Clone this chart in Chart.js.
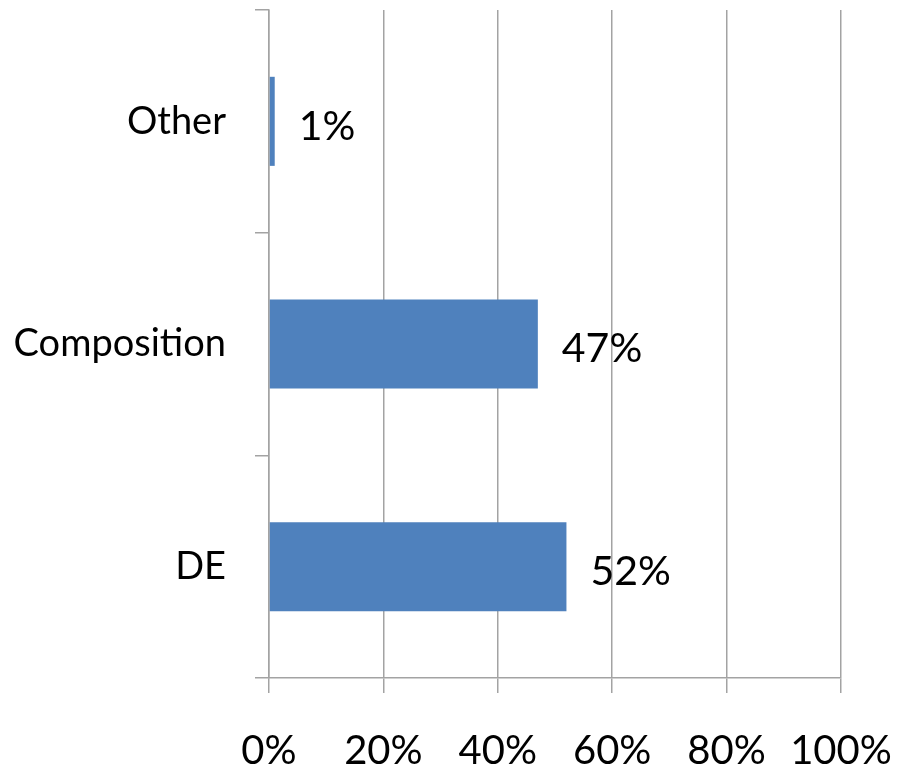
<!DOCTYPE html>
<html>
<head>
<meta charset="utf-8">
<script src="https://cdn.jsdelivr.net/npm/chart.js@4/dist/chart.umd.min.js"></script>
<style>
  html, body { margin: 0; padding: 0; background: #fff; }
  #wrap { width: 899px; height: 776px; }
</style>
</head>
<body>
<div id="wrap"><canvas id="chart" width="899" height="776"></canvas></div>
<script>
// chart values
const categories = ['Other', 'Composition', 'DE'];
const shares = [1, 47, 52];
const xTicks = [0, 20, 40, 60, 80, 100];

const gridGray = '#a3a3a3';
const barBlue = '#4f81bd';
const fontFamily = 'Lato, "Open Sans", sans-serif';

// draws the "nn%" text just past the end of each bar
const barLabels = {
    id: 'barLabels',
    afterDatasetsDraw(chart) {
        const ctx = chart.ctx;
        const meta = chart.getDatasetMeta(0);
        ctx.save();
        ctx.font = '41px ' + fontFamily;
        ctx.fillStyle = '#000';
        ctx.textAlign = 'left';
        ctx.textBaseline = 'middle';
        meta.data.forEach((bar, i) => {
            ctx.fillText(shares[i] + '%', bar.x + 24, bar.y + 5);
        });
        ctx.restore();
    }
};

new Chart(document.getElementById('chart'), {
    type: 'bar',
    data: {
        labels: categories,
        datasets: [{
            data: shares,
            backgroundColor: barBlue,
            borderWidth: 0,
            barPercentage: 0.4,
            categoryPercentage: 1
        }]
    },
    options: {
        indexAxis: 'y',
        responsive: false,
        animation: false,
        layout: { padding: { top: 10, right: 58, bottom: 4, left: 0 } },
        plugins: {
            legend: { display: false },
            tooltip: { enabled: false }
        },
        scales: {
            x: {
                min: 0,
                max: 100,
                afterBuildTicks(scale) {
                    scale.ticks = xTicks.map(v => ({ value: v }));
                },
                afterFit(scale) {
                    scale.height = 94;
                    scale.paddingLeft = 0;
                    scale.paddingRight = 0;
                },
                grid: { color: gridGray, lineWidth: 1.5, tickLength: 15 },
                border: { color: gridGray, width: 1.5 },
                ticks: {
                    color: '#000',
                    padding: 34,
                    maxRotation: 0,
                    font: { family: fontFamily, size: 40 },
                    callback: v => v + '%'
                }
            },
            y: {
                afterFit(scale) {
                    scale.width = 269;
                    scale.paddingTop = 0;
                    scale.paddingBottom = 0;
                },
                grid: { drawOnChartArea: false, color: gridGray, lineWidth: 1.5, tickLength: 14, offset: true },
                border: { color: gridGray, width: 1.5 },
                ticks: {
                    color: '#000',
                    padding: 29,
                    font: { family: fontFamily, size: 38 }
                }
            }
        }
    },
    plugins: [barLabels]
});
</script>
</body>
</html>
